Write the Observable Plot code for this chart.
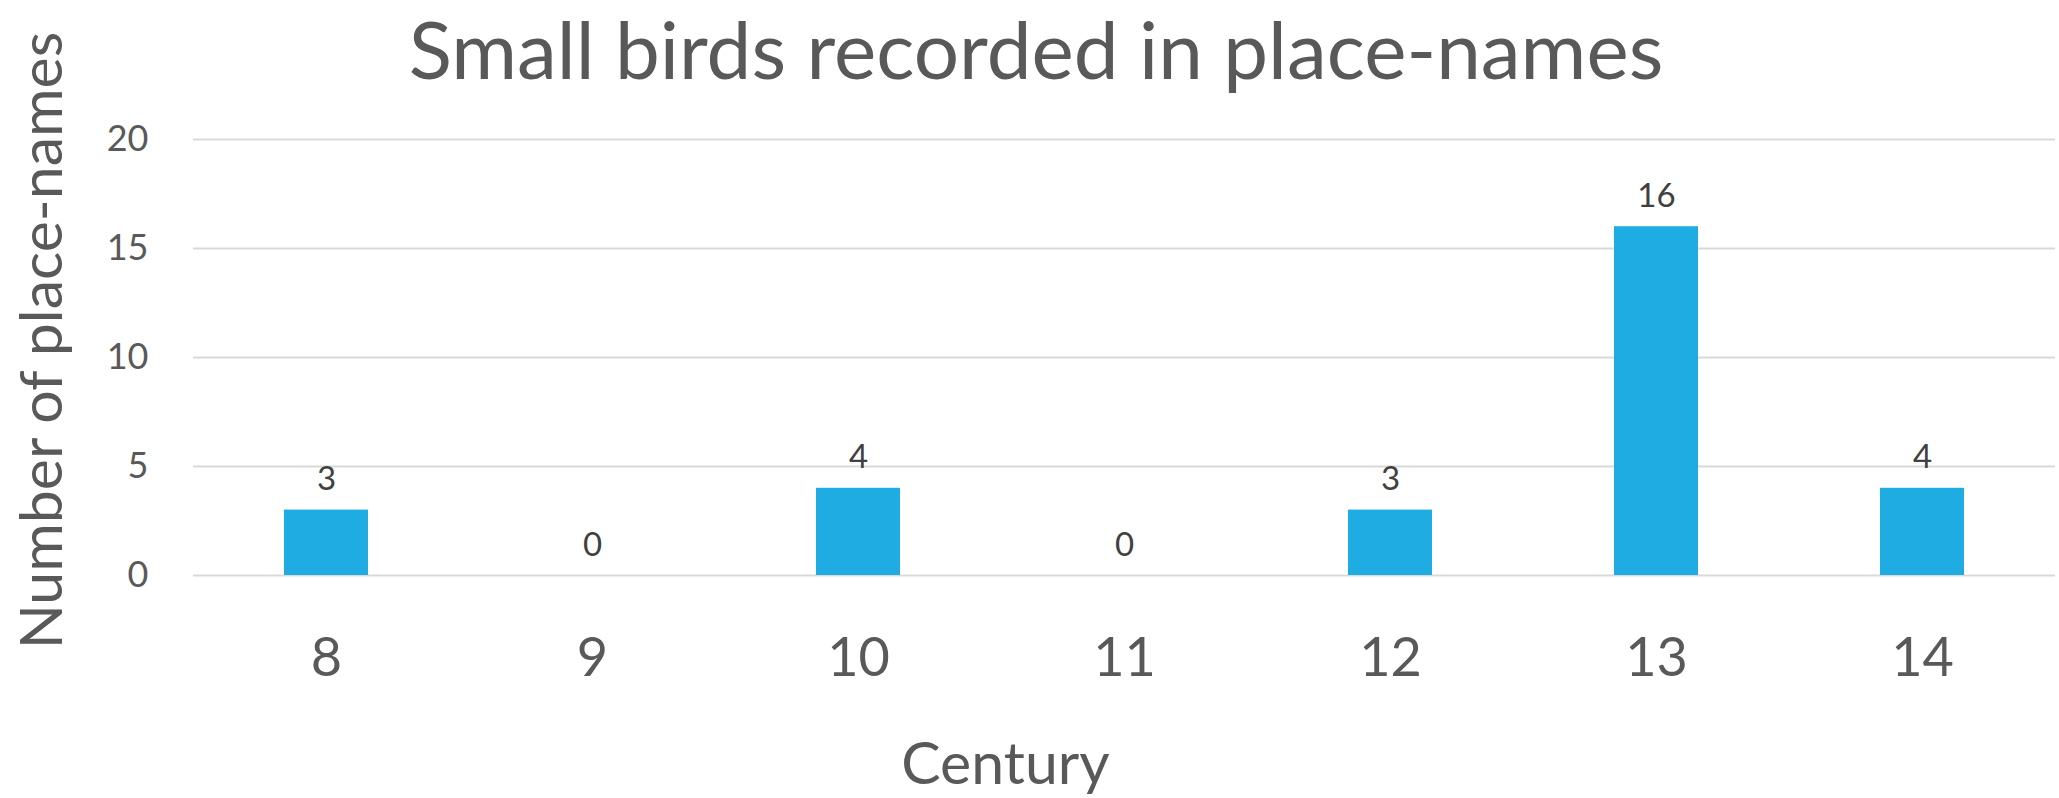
<!DOCTYPE html>
<html>
<head>
<meta charset="utf-8">
<script src="https://cdn.jsdelivr.net/npm/d3@7"></script>
<script src="https://cdn.jsdelivr.net/npm/@observablehq/plot@0.6"></script>
<style>
  html, body { margin: 0; padding: 0; background: #fff; }
  #wrap { width: 2059px; height: 798px; position: relative; overflow: hidden; }
  #title { position: absolute; left: 0; top: 0; width: 2059px; height: 100px; text-align: center;
           font-family: Lato, "Open Sans", sans-serif; font-size: 80px; line-height: 1.2; color: #595959;
           padding-left: 13px; box-sizing: border-box; white-space: nowrap; }
  #chart { position: absolute; left: 0; top: 100px; }
</style>
</head>
<body>
<div id="wrap">
  <div id="chart"></div>
  <div id="title">Small birds recorded in place-names</div>
</div>
<script>
const titleText = "Small birds recorded in place-names";
const centuries = ["8", "9", "10", "11", "12", "13", "14"];
const counts = [3, 0, 4, 0, 3, 16, 4];
const yTicks = [0, 5, 10, 15, 20];
const yLabel = "Number of place-names";
const xLabel = "Century";

const data = centuries.map((c, i) => ({century: c, count: counts[i]}));

const font = "Lato, 'Open Sans', sans-serif";

const chart = Plot.plot({
  width: 2059,
  height: 698,
  marginLeft: 193,
  marginRight: 4,
  marginTop: 39,
  marginBottom: 223,
  style: {fontFamily: font, background: "transparent", overflow: "visible"},
  x: {domain: centuries, padding: 0},
  y: {domain: [0, 20]},
  marks: [
    Plot.ruleY(yTicks, {stroke: "#d9d9d9", strokeWidth: 2}),
    Plot.barY(data, {x: "century", y: "count", fill: "#1eace2", insetLeft: 91, insetRight: 91}),
    Plot.text(data, {x: "century", y: "count", text: d => String(d.count), lineAnchor: "bottom", dy: -20,
                     fontSize: 33, fill: "#404040"}),
    Plot.axisY({ticks: yTicks, tickSize: 0, tickPadding: 45, fontSize: 36, color: "#595959", label: null}),
    Plot.axisX({tickSize: 0, tickPadding: 62, fontSize: 54, color: "#595959", label: null}),
    Plot.text([yLabel], {frameAnchor: "left", textAnchor: "middle", lineAnchor: "middle", rotate: -90,
                         dx: -150, dy: -17, fontSize: 59, fill: "#595959"}),
    Plot.text([xLabel], {frameAnchor: "bottom", textAnchor: "middle", lineAnchor: "middle",
                         dx: -119, dy: 190, fontSize: 59, fill: "#595959"})
  ]
});
document.getElementById("chart").appendChild(chart);
</script>
</body>
</html>
